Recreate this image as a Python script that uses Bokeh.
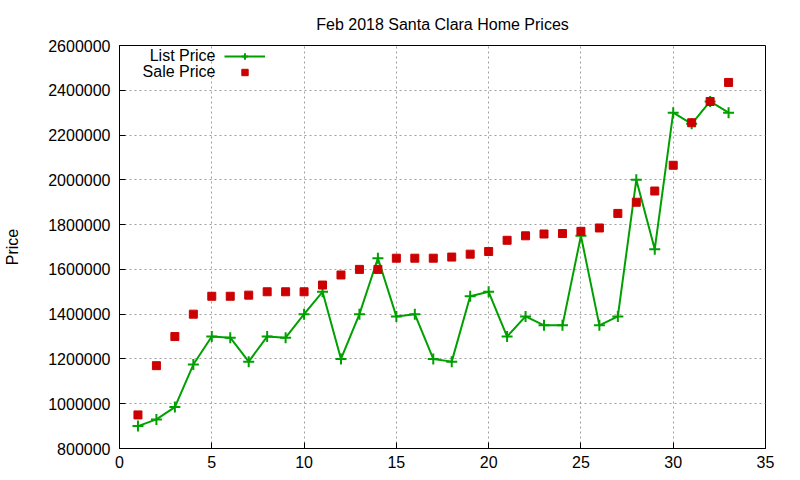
from bokeh.plotting import figure
from bokeh.models import (Legend, LegendItem, BasicTickFormatter, FixedTicker,
                          Label, Range1d)
from bokeh.embed import file_html
from bokeh.resources import INLINE

# house number (sorted by sale price)
house = list(range(1, 34))

list_price = [900000, 930000, 985000, 1175000, 1300000, 1295000, 1188000, 1300000,
              1295000, 1400000, 1500000, 1200000, 1400000, 1650000, 1390000, 1400000,
              1200000, 1188000, 1480000, 1500000, 1300000, 1390000, 1350000, 1350000,
              1750000, 1350000, 1390000, 2000000, 1690000, 2300000, 2250000, 2350000,
              2300000]

sale_price = [950000, 1170000, 1300000, 1400000, 1480000, 1480000, 1485000, 1500000,
              1500000, 1500000, 1530000, 1575000, 1600000, 1600000, 1650000, 1650000,
              1650000, 1655000, 1668000, 1680000, 1730000, 1750000, 1758000, 1760000,
              1770000, 1785000, 1850000, 1900000, 1950000, 2065000, 2255000, 2350000,
              2435000]

series_names = ["List Price", "Sale Price"]

x_ticks = [0, 5, 10, 15, 20, 25, 30, 35]
y_ticks = [800000, 1000000, 1200000, 1400000, 1600000, 1800000, 2000000, 2200000,
           2400000, 2600000]

FONT = "Liberation Sans"

p = figure(width=784, height=470,
           x_range=Range1d(0, 35), y_range=Range1d(800000, 2600000),
           title="Feb 2018 Santa Clara Home Prices",
           output_backend="svg", toolbar_location=None,
           min_border_left=119, min_border_right=19,
           min_border_top=45, min_border_bottom=21)

p.title.align = "center"
p.title.text_font = FONT
p.title.text_font_size = "16px"
p.title.text_font_style = "normal"
p.title.text_color = "black"
p.title.standoff = 25

p.outline_line_color = "black"
p.outline_line_alpha = 1
p.outline_line_width = 1

# gnuplot style: ticks pointing in
for ax in [p.xaxis[0], p.yaxis[0]]:
    ax.major_tick_in = 6
    ax.major_tick_out = 0
    ax.minor_tick_line_color = None
    ax.axis_line_color = "black"
    ax.major_tick_line_color = "black"
    ax.major_label_text_font = FONT
    ax.major_label_text_font_size = "16px"
    ax.major_label_text_color = "black"

p.xaxis.ticker = FixedTicker(ticks=x_ticks)
p.yaxis.ticker = FixedTicker(ticks=y_ticks)
p.yaxis.formatter = BasicTickFormatter(use_scientific=False)
p.xaxis.major_label_standoff = 7
p.yaxis.major_label_standoff = 9

p.yaxis.axis_label = "Price"
p.yaxis.axis_label_text_font = FONT
p.yaxis.axis_label_text_font_size = "16px"
p.yaxis.axis_label_text_font_style = "normal"
p.yaxis.axis_label_text_color = "black"
p.yaxis.axis_label_standoff = 24

p.xgrid.ticker = FixedTicker(ticks=x_ticks)
p.ygrid.ticker = FixedTicker(ticks=y_ticks)
for g in [p.xgrid[0], p.ygrid[0]]:
    g.grid_line_color = "#a0a0a0"
    g.grid_line_dash = "2 3"
    g.grid_line_width = 1

green = "#00a000"
red = "#cc0000"

r_line = p.line(house, list_price, line_color=green, line_width=2)
r_cross = p.scatter(house, list_price, marker="cross", size=11,
                    line_color=green, line_width=2)
r_sale = p.scatter(house, sale_price, marker="square", size=8,
                   fill_color=red, line_color=red)

# key: samples from a Legend, names right-aligned to their left (gnuplot style)
legend = Legend(items=[LegendItem(label=" ", renderers=[r_line, r_cross]),
                       LegendItem(label=" ", renderers=[r_sale])],
                location=(105, 368), glyph_width=41, glyph_height=16,
                label_height=16, spacing=0, padding=0, margin=0,
                border_line_color=None, background_fill_alpha=0,
                label_text_font=FONT, label_text_font_size="16px",
                label_standoff=0)
p.add_layout(legend)

for i, name in enumerate(series_names):
    p.add_layout(Label(x=96, y=393 - 16 * i, x_units="screen", y_units="screen",
                       text=name, text_align="right", text_baseline="middle",
                       text_font=FONT, text_font_size="16px", text_color="black"))

open("out.html", "w").write(file_html(p, INLINE))
